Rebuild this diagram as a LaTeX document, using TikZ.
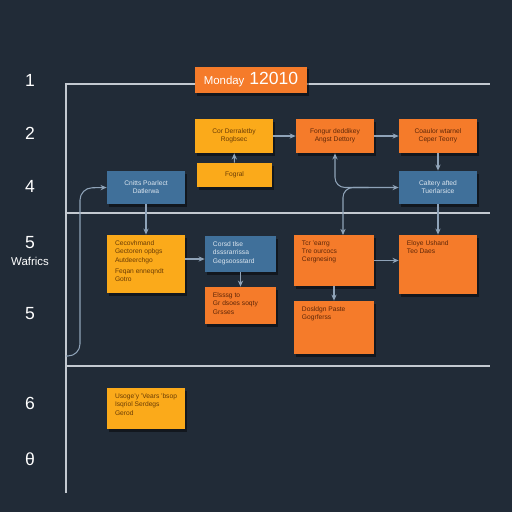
\documentclass[tikz,border=0pt]{standalone}
\usepackage{fontspec}
\setmainfont{Liberation Sans}
\usetikzlibrary{arrows.meta,shadows}
\definecolor{bgdark}{HTML}{212B37}
\definecolor{cardyellow}{HTML}{FBAA1A}
\definecolor{cardorange}{HTML}{F57B2A}
\definecolor{cardblue}{HTML}{40709A}
\definecolor{gridline}{HTML}{C3C9D0}
\definecolor{wire}{HTML}{8FA3B8}
\definecolor{inkyellow}{HTML}{6A3C05}
\definecolor{inkorange}{HTML}{5E2608}
\definecolor{inkblue}{HTML}{DCE6EF}
\newdimen\px \px=0.02cm
\tikzset{
  card/.style={rectangle, inner xsep=8\px, inner ysep=6\px, align=center,
    font=\fontsize{3.8}{4.6}\selectfont,
    drop shadow={shadow xshift=1pt, shadow yshift=-1.5pt, opacity=0.45, fill=black}},
  ycard/.style={card, fill=cardyellow, text=inkyellow},
  ocard/.style={card, fill=cardorange, text=inkorange},
  bcard/.style={card, fill=cardblue, text=inkblue},
  frame/.style={draw=gridline, line width=0.6pt},
  wire/.style={draw=wire, line width=0.6pt, -{Stealth[length=3.5pt,width=3pt]}},
  rowlabel/.style={text=white, font=\fontsize{10}{10}\selectfont}
}
% card with centred text
\def\card(#1,#2,#3,#4,#5,#6,#7){
  \node[#1, minimum width=#5\px, minimum height=#6\px] (#2) at (#3,#4) {#7};
}
% card with text in the top left corner
\def\topcard(#1,#2,#3,#4,#5,#6,#7){
  \node[#1, minimum width=#5\px, minimum height=#6\px] (#2) at (#3,#4)
    {\parbox[c][\dimexpr#6\px-12\px\relax][t]{\dimexpr#5\px-16\px\relax}{\raggedright #7}};
}

\begin{document}
\begin{tikzpicture}[x=0.02cm, y=-0.02cm]
\fill[bgdark] (0,0) rectangle (512,512);
\useasboundingbox (0,0) rectangle (512,512);

% row labels
\foreach \ly/\lt [count=\li] in {80/1, 133/2, 186/4, 243/5, 314/5, 403/6, 459/θ}
  \node[rowlabel] (lab\li) at (30,\ly) {\lt};
\node[text=white, font=\fontsize{6.5}{6.5}\selectfont] (labw) at (30,261) {Wafrics};

% frame
\draw[frame] (66,493) -- (66,84) -- (490,84);
\draw[frame] (66,213) -- (490,213);
\draw[frame] (66,366) -- (490,366);

\node[fill=cardorange, text=white, minimum width=112\px, minimum height=26\px,
  font=\fontsize{10}{10}\selectfont,
  drop shadow={shadow xshift=1pt, shadow yshift=-1.5pt, opacity=0.45, fill=black}]
  (title) at (251,80) {{\fontsize{6.5}{6.5}\selectfont Monday} 12010};

\card(ycard,ca,234,136,78,34,Cor Derraletby\\Rogbsec)
\card(ycard,cb,234.5,175,75,24,Fogral)
\card(ocard,cc,335,136,78,34,Fongur deddikey\\Angst Dettory)
\card(ocard,cd,438,136,78,34,Coaulor wtarnel\\Ceper Teorry)
\card(bcard,ce,146,187.5,78,33,Cnitts Poarlect\\Datlerwa)
\card(bcard,cf,438,187.5,78,33,Caltery afted\\Tuerlarsice)
\topcard(ycard,ch,146,264,78,58,Cecovhmand\\Gectoren opbgs\\Autdeerchgo\\[2pt]Feqan enneqndt\\Gotro)
\topcard(bcard,ci,240.5,254,71,36,Corsd tlse\\dsssrarrissa\\Gegsoosstard)
\topcard(ocard,cj,240.5,305.5,71,37,Elsssg to\\Gr dsoes soqty\\Grsses)
\topcard(ocard,cg,334,260.5,80,51,Tcr 'earrg\\Tre ourcocs\\Cergnesing)
\topcard(ocard,ck,438,264.5,78,59,Eloye Ushand\\Teo Daes)
\topcard(ocard,cl,334,327.5,80,53,Dosldgn Paste\\Gogrferss)
\topcard(ycard,cm,146,408.5,78,41,Usoge'y 'Vears 'bsop\\Isqriol Serdegs\\Gerod)

% connectors
\draw[wire] (cb) -- (ca);
\draw[wire] (ca) -- (cc);
\draw[wire] (cc) -- (cd);
\draw[wire] (cd) -- (cf);
\draw[wire] (ce) -- (ch);
\draw[wire] ([yshift=-5\px]ci.west -| ch.east) -- ([yshift=-5\px]ci.west);
\draw[wire] (ci) -- (cj);
\draw[wire] (cg.east) -- (cg.east -| ck.west);
\draw[wire] (cg) -- (cl);
\draw[wire] (cf) -- (ck);
\draw[wire, {Stealth[length=3.5pt,width=3pt]}-{Stealth[length=3.5pt,width=3pt]}, rounded corners=10\px]
  (cc.south) |- (cf.west);
\coordinate (gtop) at (343,235);
\draw[wire, rounded corners=10\px] ([xshift=-30\px]cf.west) -| (gtop);
\coordinate (lstart) at (66,356);
\draw[wire, rounded corners=12\px] (lstart) -| (80,188) -- (ce.west);
\end{tikzpicture}
\end{document}
